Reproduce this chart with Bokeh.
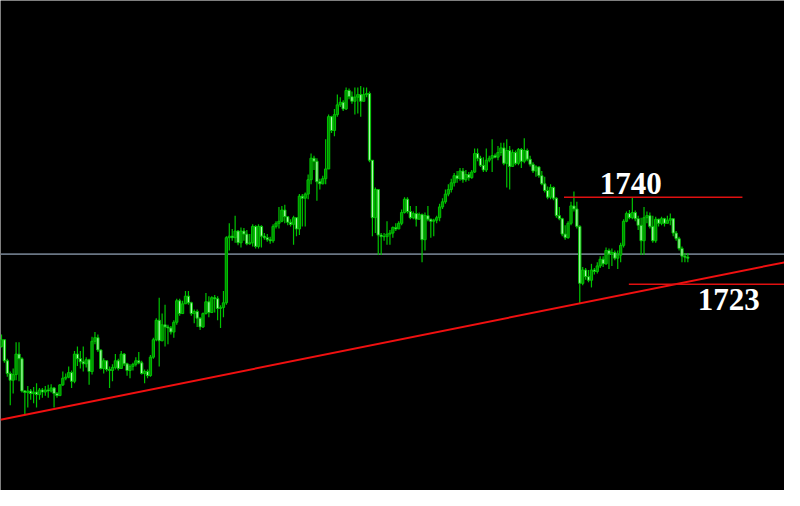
from bokeh.plotting import figure
from bokeh.models import Range1d, ColumnDataSource
from bokeh.embed import file_html
from bokeh.resources import INLINE
from bokeh.core.properties import value
import numpy as np

# ---- candle data (price) ----
first_open = 1710.9
close = [
 1712.2,1708.1,1705.6,1704.3,1705.4,1709.4,1708.5,1702.2,1701.9,1702.2,1701.7,1702.0,
 1701.5,1702.4,1702.0,1702.4,1702.2,1702.8,1701.7,1701.3,1703.4,1704.7,1704.9,1705.8,
 1704.1,1709.4,1708.5,1707.9,1707.5,1708.3,1706.0,1711.9,1712.6,1710.2,1706.6,1708.1,
 1706.4,1706.2,1706.8,1708.1,1706.6,1709.4,1707.5,1706.2,1707.0,1707.4,1708.1,1707.7,
 1705.6,1706.0,1705.2,1708.8,1712.2,1716.0,1712.0,1715.1,1714.7,1714.5,1713.7,1715.6,
 1719.8,1717.3,1719.2,1720.7,1719.4,1717.3,1717.7,1716.4,1714.7,1717.3,1719.6,1717.5,
 1720.4,1720.2,1718.3,1718.5,1719.4,1732.1,1732.4,1732.1,1733.4,1731.1,1733.4,1732.8,
 1730.9,1731.1,1734.3,1730.4,1734.3,1732.4,1732.1,1731.7,1731.5,1734.3,1734.9,1735.3,
 1737.5,1736.2,1735.1,1734.7,1736.0,1733.8,1740.2,1739.8,1740.6,1743.4,1747.6,1747.0,
 1743.0,1742.6,1743.6,1745.5,1755.7,1753.0,1756.1,1758.0,1758.5,1757.2,1760.8,1759.6,
 1758.7,1759.5,1760.0,1758.7,1760.0,1760.2,1747.2,1736.0,1741.5,1732.6,1732.3,1732.3,
 1732.8,1733.0,1734.1,1733.8,1734.9,1737.0,1739.6,1737.2,1736.0,1736.8,1735.7,1736.6,
 1731.7,1736.4,1735.7,1735.3,1735.5,1736.0,1738.1,1739.1,1740.6,1741.5,1742.8,1744.2,
 1743.6,1745.1,1743.4,1744.4,1743.8,1744.9,1748.5,1747.6,1746.2,1745.3,1747.2,1747.6,
 1748.1,1747.8,1748.7,1749.6,1746.6,1749.1,1746.0,1748.7,1746.6,1749.3,1747.0,1749.1,
 1747.4,1746.4,1745.1,1745.9,1744.2,1742.6,1741.3,1740.0,1741.9,1739.8,1736.4,1735.8,
 1732.8,1732.1,1734.9,1738.3,1737.7,1734.3,1723.2,1725.8,1724.5,1723.8,1725.8,1725.5,
 1726.6,1727.9,1727.0,1729.6,1728.9,1729.2,1728.1,1728.7,1730.6,1735.3,1736.8,1736.0,
 1737.0,1735.8,1734.5,1731.5,1736.0,1736.4,1734.3,1731.5,1735.7,1734.9,1735.8,1734.9,
 1735.5,1735.8,1733.0,1731.9,1730.0,1728.5,1728.3,1728.1]
high = [
 1713.2,1710.9,1708.5,1706.0,1706.6,1711.7,1711.7,1708.8,1702.4,1703.2,1702.6,1703.0,
 1703.7,1702.8,1702.8,1703.2,1703.4,1703.5,1703.0,1702.0,1703.5,1706.0,1705.6,1707.0,
 1706.2,1710.0,1710.9,1710.0,1710.9,1708.8,1708.5,1712.8,1713.7,1713.2,1710.3,1708.6,
 1708.1,1707.0,1707.4,1709.4,1708.5,1710.0,1709.6,1707.7,1707.4,1707.7,1708.8,1709.8,
 1708.1,1706.4,1706.4,1709.2,1712.6,1716.4,1720.4,1717.3,1719.0,1715.1,1714.9,1716.0,
 1720.2,1720.2,1719.8,1721.7,1721.7,1719.6,1718.1,1718.1,1716.6,1717.5,1721.3,1720.7,
 1720.7,1720.9,1720.7,1718.9,1721.7,1732.4,1734.9,1733.8,1736.4,1733.6,1734.1,1734.0,
 1733.6,1732.8,1734.7,1734.5,1734.7,1734.5,1733.0,1732.8,1732.3,1734.7,1735.3,1738.1,
 1738.3,1738.5,1735.8,1735.7,1736.4,1734.9,1740.6,1740.6,1740.9,1744.4,1748.5,1748.1,
 1747.6,1743.6,1744.2,1751.3,1756.1,1755.9,1757.2,1760.0,1759.5,1758.9,1761.4,1761.2,
 1760.6,1761.4,1761.4,1761.7,1761.4,1761.4,1760.6,1747.2,1741.9,1741.5,1733.0,1733.0,
 1735.3,1733.6,1734.3,1734.9,1735.3,1737.6,1740.0,1740.0,1738.3,1737.2,1738.3,1737.0,
 1736.8,1737.0,1738.3,1735.8,1735.8,1736.4,1738.7,1739.8,1741.5,1742.5,1743.6,1744.7,
 1745.1,1745.7,1745.7,1745.3,1744.9,1745.3,1749.5,1749.5,1748.1,1747.8,1749.5,1748.1,
 1751.3,1748.5,1750.0,1750.6,1750.6,1751.3,1750.0,1749.3,1749.1,1749.6,1749.6,1751.5,
 1749.5,1748.1,1746.8,1746.2,1746.0,1745.1,1744.0,1742.1,1742.5,1742.1,1740.0,1738.1,
 1736.0,1734.5,1735.3,1739.1,1741.1,1739.1,1734.5,1726.4,1726.2,1725.8,1727.0,1726.2,
 1727.3,1728.5,1728.5,1730.2,1730.0,1730.0,1729.6,1729.6,1731.1,1735.7,1737.2,1737.5,
 1740.0,1737.4,1736.4,1736.0,1738.1,1737.2,1737.0,1736.4,1736.2,1735.8,1736.2,1736.0,
 1736.4,1736.8,1735.8,1733.4,1732.3,1730.4,1729.1,1729.1]
low = [
 1710.7,1707.7,1705.0,1699.4,1701.7,1704.3,1704.1,1701.9,1697.5,1699.0,1700.5,1699.8,
 1699.0,1700.5,1700.9,1701.3,1700.9,1701.9,1699.0,1700.9,1701.3,1703.2,1704.3,1704.7,
 1702.8,1703.7,1707.1,1706.6,1706.0,1706.8,1703.4,1705.4,1711.3,1709.8,1706.4,1705.6,
 1706.0,1702.8,1704.1,1706.4,1706.2,1707.0,1707.1,1705.2,1704.7,1706.2,1707.0,1707.4,
 1705.4,1703.7,1704.7,1705.0,1708.5,1711.9,1707.0,1711.9,1710.9,1711.3,1713.2,1712.6,
 1715.1,1716.9,1718.5,1719.2,1719.0,1716.9,1715.4,1714.7,1714.1,1714.5,1717.1,1716.6,
 1719.4,1717.5,1716.0,1714.5,1716.6,1719.0,1729.6,1731.5,1731.1,1730.6,1730.2,1731.5,
 1730.6,1730.7,1730.4,1730.0,1730.0,1730.2,1731.7,1731.3,1730.9,1731.1,1733.9,1733.9,
 1735.1,1734.9,1734.5,1734.3,1730.7,1732.4,1732.6,1734.3,1734.3,1739.6,1742.5,1745.3,
 1739.3,1741.5,1742.5,1742.5,1745.9,1752.5,1751.9,1755.7,1757.6,1756.8,1757.0,1759.1,
 1758.2,1756.1,1756.3,1755.7,1759.1,1759.5,1746.8,1732.4,1733.0,1728.7,1728.7,1731.5,
 1730.7,1730.7,1732.1,1733.4,1733.8,1734.5,1736.8,1736.8,1735.7,1735.7,1734.3,1736.2,
 1727.3,1729.6,1735.3,1732.1,1732.4,1734.9,1735.3,1737.7,1738.7,1740.2,1740.9,1742.1,
 1742.8,1743.2,1742.8,1743.0,1743.2,1743.6,1744.7,1747.0,1745.9,1744.9,1744.9,1746.8,
 1744.9,1747.6,1747.2,1748.1,1746.2,1741.9,1741.5,1745.9,1746.2,1746.2,1745.7,1746.6,
 1747.0,1746.0,1744.7,1744.0,1743.8,1742.3,1740.9,1739.6,1739.6,1739.4,1736.0,1735.5,
 1732.4,1731.7,1731.9,1734.5,1737.2,1733.9,1719.2,1722.8,1723.9,1723.4,1722.4,1724.9,
 1725.1,1726.2,1726.4,1726.8,1726.0,1726.6,1727.7,1726.0,1727.3,1730.2,1735.1,1735.7,
 1735.7,1735.3,1733.6,1728.7,1728.7,1734.9,1733.9,1731.1,1731.1,1734.3,1734.5,1734.3,
 1734.9,1734.5,1732.4,1731.5,1729.6,1727.3,1727.3,1727.3]

# ---- levels / annotations ----
bid_price = 1728.9
trend_x = [-0.34, 268.1]
trend_y = [1696.6, 1727.3]
res_level, res_x = 1740.0, [192.6, 253.7]
sup_level, sup_x = 1723.0, [214.8, 268.1]
labels = ["1740", "1723"]
label_x = [204.8, 238.4]
label_y = [1742.6, 1720.0]

n = len(close)
idx = np.arange(n)
c = np.array(close)
o = np.concatenate([[first_open], c[:-1]])
top = np.maximum(o, c)
bot = np.minimum(o, c)
hi = np.maximum(np.array(high), top)
lo = np.minimum(np.array(low), bot)
bull = c >= o

p = figure(width=784, height=490, output_backend="svg", toolbar_location=None,
           x_range=Range1d(-0.34, 268.1), y_range=Range1d(1682.8, 1778.35),
           min_border=0, background_fill_color="black", border_fill_color="black",
           outline_line_color=None)
p.axis.visible = False
p.grid.visible = False

# bid line
p.line(x=trend_x, y=[bid_price, bid_price], line_color="#6A7684", line_width=1.6)

wick = "#00C400"
p.segment(x0=idx, y0=hi, x1=idx, y1=lo, line_color=wick, line_width=1.2)
src_bull = ColumnDataSource(dict(x=idx[bull], top=top[bull], bottom=bot[bull]))
src_bear = ColumnDataSource(dict(x=idx[~bull], top=top[~bull], bottom=bot[~bull]))
p.vbar(x="x", top="top", bottom="bottom", width=0.78, source=src_bull,
       fill_color="#008C00", line_color=wick, line_width=1)
p.vbar(x="x", top="top", bottom="bottom", width=0.78, source=src_bear,
       fill_color="#B0F8B0", line_color=wick, line_width=1)

# red lines
p.line(x=trend_x, y=trend_y, line_color="#F01010", line_width=2)
p.line(x=res_x, y=[res_level, res_level], line_color="#E01010", line_width=1.5)
p.line(x=sup_x, y=[sup_level, sup_level], line_color="#E01010", line_width=1.5)

p.text(x=label_x, y=label_y, text=labels, text_color="white",
       text_font=value("Liberation Serif"), text_font_style="bold",
       text_font_size="31px", text_align="left", text_baseline="middle")

open("out.html", "w").write(file_html(p, INLINE))
